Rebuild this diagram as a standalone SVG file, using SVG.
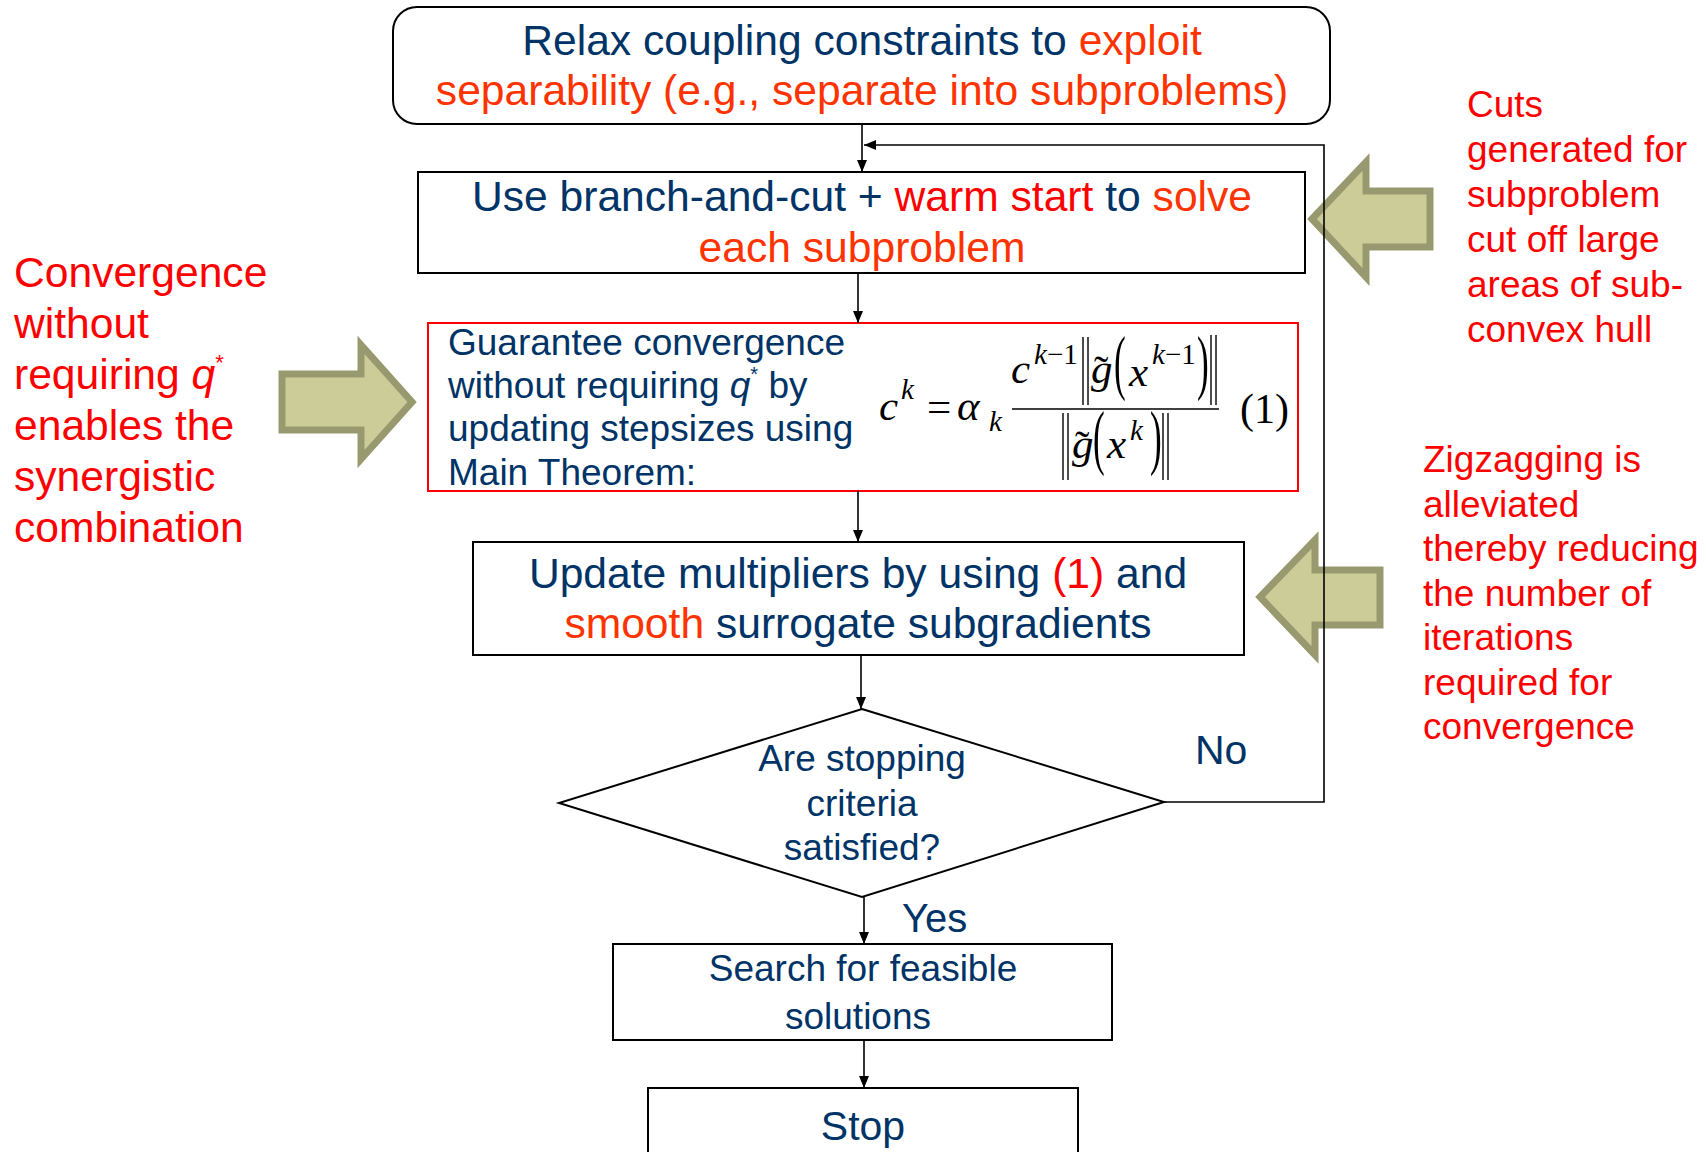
<svg xmlns="http://www.w3.org/2000/svg" width="1706" height="1152" viewBox="0 0 1706 1152">
<defs>
<style>
.t{font-family:"Liberation Sans",Arial,sans-serif;fill:#003366}
.n{fill:#003366}
.o{fill:#FF3300}
.r{fill:#FF0000}
.ann{font-family:"Liberation Sans",Arial,sans-serif;fill:#FF0000}
.m{font-family:"Liberation Serif","Times New Roman",serif;fill:#000}
.i{font-style:italic}
.box{fill:#fff;stroke:#000;stroke-width:2}
.rbox{fill:#fff;stroke:#FF0000;stroke-width:2}
.big{fill:#CCCC99;stroke:#999970;stroke-width:7;stroke-linejoin:miter}
.c{fill:none;stroke:#000;stroke-width:1.6}
.nb{stroke:#000;stroke-width:1.4}
</style>
<marker id="ah" viewBox="0 0 12 10" refX="12" refY="5" markerWidth="12" markerHeight="10" orient="auto" markerUnits="userSpaceOnUse"><path d="M0,0 L12,5 L0,10 z" fill="#000"/></marker>
</defs>
<rect width="1706" height="1152" fill="#fff"/>

<g id="n-relax">
<rect class="box" x="393" y="7" width="937" height="117" rx="24"/>
<text class="t" font-size="42.6" x="862" y="55" text-anchor="middle"><tspan class="n">Relax coupling constraints to </tspan><tspan class="o">exploit</tspan></text>
<text class="t o" font-size="42.6" x="862" y="105" text-anchor="middle">separability (e.g., separate into subproblems)</text>
</g>

<g id="n-solve">
<rect class="box" x="418" y="172" width="887" height="101"/>
<text class="t" font-size="42.6" x="862" y="211" text-anchor="middle"><tspan class="n">Use branch-and-cut + </tspan><tspan class="r">warm start</tspan><tspan class="n"> to </tspan><tspan class="o">solve</tspan></text>
<text class="t o" font-size="42.6" x="862" y="262" text-anchor="middle">each subproblem</text>
</g>

<g id="n-guarantee">
<rect class="rbox" x="428" y="323" width="870" height="168"/>
<text class="t" font-size="37" x="448" y="355">Guarantee convergence</text>
<text class="t" font-size="37" x="448" y="398">without requiring <tspan font-style="italic">q</tspan><tspan font-size="20" dy="-17">*</tspan><tspan dy="17"> by</tspan></text>
<text class="t" font-size="37" x="448" y="441">updating stepsizes using</text>
<text class="t" font-size="37" x="448" y="485">Main Theorem:</text>
<g id="formula">
<text class="m i" font-size="43" x="879" y="420">c</text>
<text class="m i" font-size="29" x="901" y="399">k</text>
<text class="m" font-size="43" x="927" y="421">=</text>
<text class="m i" font-size="43" x="957" y="420">α</text>
<text class="m i" font-size="29" x="989" y="431">k</text>
<line class="nb" x1="1012" y1="409" x2="1219" y2="409"/>
<text class="m i" font-size="43" x="1011" y="383">c</text>
<text class="m" font-size="29" x="1034" y="364"><tspan font-style="italic">k</tspan>−1</text>
<line class="nb" x1="1083" y1="337" x2="1083" y2="405"/>
<line class="nb" x1="1088" y1="337" x2="1088" y2="405"/>
<text class="m i" font-size="43" x="1091" y="383">g</text>
<text class="m" font-size="43" x="1094" y="385">˜</text>
<text class="m" font-size="44" transform="translate(1114,386) scale(0.8,1.65)">(</text>
<text class="m i" font-size="43" x="1129" y="386">x</text>
<text class="m" font-size="29" x="1152" y="364"><tspan font-style="italic">k</tspan>−1</text>
<text class="m" font-size="44" transform="translate(1197,386) scale(0.8,1.65)">)</text>
<line class="nb" x1="1211" y1="335" x2="1211" y2="405"/>
<line class="nb" x1="1216" y1="335" x2="1216" y2="405"/>
<line class="nb" x1="1063" y1="413" x2="1063" y2="480"/>
<line class="nb" x1="1068" y1="413" x2="1068" y2="480"/>
<text class="m i" font-size="43" x="1072" y="458">g</text>
<text class="m" font-size="43" x="1075" y="460">˜</text>
<text class="m" font-size="44" transform="translate(1093,461) scale(0.8,1.65)">(</text>
<text class="m i" font-size="43" x="1107" y="458">x</text>
<text class="m i" font-size="29" x="1130" y="440">k</text>
<text class="m" font-size="44" transform="translate(1150,461) scale(0.8,1.65)">)</text>
<line class="nb" x1="1163" y1="413" x2="1163" y2="480"/>
<line class="nb" x1="1168" y1="413" x2="1168" y2="480"/>
<text class="m" font-size="42" x="1240" y="423">(1)</text>
</g>
</g>

<g id="n-update">
<rect class="box" x="473" y="542" width="771" height="113"/>
<text class="t" font-size="42.6" x="858" y="588" text-anchor="middle"><tspan class="n">Update multipliers by using </tspan><tspan class="r">(1)</tspan><tspan class="n"> and</tspan></text>
<text class="t" font-size="42.6" x="858" y="638" text-anchor="middle"><tspan class="o">smooth</tspan><tspan class="n"> surrogate subgradients</tspan></text>
</g>

<g id="n-stopcheck">
<polygon class="box" points="862,709 1164,802 862,897 559,803"/>
<text class="t" font-size="37" x="862" y="771" text-anchor="middle">Are stopping</text>
<text class="t" font-size="37" x="862" y="816" text-anchor="middle">criteria</text>
<text class="t" font-size="37" x="862" y="860" text-anchor="middle">satisfied?</text>
</g>

<g id="n-search">
<rect class="box" x="613" y="944" width="499" height="96"/>
<text class="t" font-size="37" x="863" y="981" text-anchor="middle">Search for feasible</text>
<text class="t" font-size="37" x="858" y="1029" text-anchor="middle">solutions</text>
</g>

<g id="n-stop">
<rect class="box" x="648" y="1088" width="430" height="80"/>
<text class="t" font-size="41" x="863" y="1140" text-anchor="middle">Stop</text>
</g>

<g id="n-note-left">
<polygon class="big" points="282,374 361,374 361,345 412,402 361,459 361,430 282,430"/>
<text class="ann" font-size="42.6" x="14" y="287">Convergence</text>
<text class="ann" font-size="42.6" x="14" y="338">without</text>
<text class="ann" font-size="42.6" x="14" y="389">requiring <tspan font-style="italic">q</tspan><tspan font-size="22" dy="-19">*</tspan></text>
<text class="ann" font-size="42.6" x="14" y="440">enables the</text>
<text class="ann" font-size="42.6" x="14" y="491">synergistic</text>
<text class="ann" font-size="42.6" x="14" y="542">combination</text>
</g>

<g id="n-note-cuts">
<polygon class="big" points="1312,219 1366,162 1366,191 1430,191 1430,247 1366,247 1366,277"/>
<text class="ann" font-size="37" x="1467" y="117">Cuts</text>
<text class="ann" font-size="37" x="1467" y="162">generated for</text>
<text class="ann" font-size="37" x="1467" y="207">subproblem</text>
<text class="ann" font-size="37" x="1467" y="252">cut off large</text>
<text class="ann" font-size="37" x="1467" y="297">areas of sub-</text>
<text class="ann" font-size="37" x="1467" y="342">convex hull</text>
</g>

<g id="n-note-zigzag">
<polygon class="big" points="1260,597 1315,540 1315,570 1380,570 1380,625 1315,625 1315,655"/>
<text class="ann" font-size="37" x="1423" y="472">Zigzagging is</text>
<text class="ann" font-size="37" x="1423" y="517">alleviated</text>
<text class="ann" font-size="37" x="1423" y="561">thereby reducing</text>
<text class="ann" font-size="37" x="1423" y="606">the number of</text>
<text class="ann" font-size="37" x="1423" y="650">iterations</text>
<text class="ann" font-size="37" x="1423" y="695">required for</text>
<text class="ann" font-size="37" x="1423" y="739">convergence</text>
</g>

<g id="connectors">
<line class="c" x1="862" y1="124" x2="862" y2="172" marker-end="url(#ah)"/>
<polyline class="c" points="1164,802 1324,802 1324,145 864,145" marker-end="url(#ah)"/>
<line class="c" x1="858" y1="273" x2="858" y2="323" marker-end="url(#ah)"/>
<line class="c" x1="858" y1="491" x2="858" y2="542" marker-end="url(#ah)"/>
<line class="c" x1="861" y1="655" x2="861" y2="709" marker-end="url(#ah)"/>
<line class="c" x1="864" y1="897" x2="864" y2="944" marker-end="url(#ah)"/>
<line class="c" x1="864" y1="1040" x2="864" y2="1088" marker-end="url(#ah)"/>
<text class="t" font-size="41" x="1195" y="764">No</text>
<text class="t" font-size="40" x="902" y="932">Yes</text>
</g>
</svg>
